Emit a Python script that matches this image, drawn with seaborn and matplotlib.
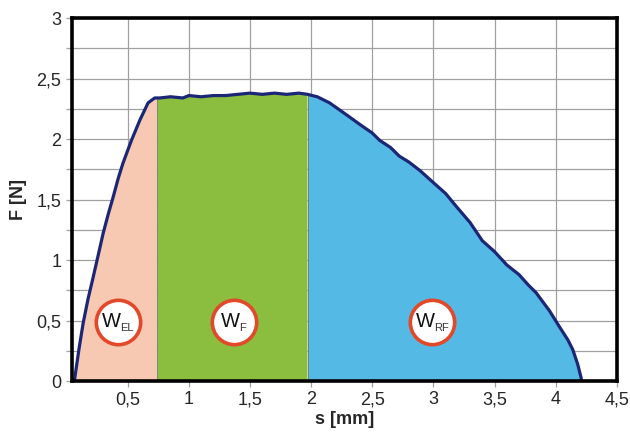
import numpy as np
import pandas as pd
import seaborn as sns
import matplotlib.pyplot as plt
from matplotlib.ticker import MultipleLocator, FuncFormatter

# force-displacement curve
s_mm = [0.060, 0.067, 0.10, 0.135, 0.175, 0.217, 0.26, 0.298, 0.34, 0.38, 0.42, 0.46, 0.53,
        0.60, 0.666, 0.72, 0.76, 0.85, 0.95, 1.00, 1.10, 1.20, 1.30, 1.40, 1.50, 1.60, 1.70,
        1.80, 1.90, 1.97, 2.05, 2.15, 2.22, 2.29, 2.40, 2.50, 2.56, 2.65, 2.72, 2.80, 2.89,
        3.00, 3.10, 3.19, 3.30, 3.40, 3.50, 3.60, 3.70, 3.78, 3.84, 3.95, 4.03, 4.10, 4.14,
        4.18, 4.21]
F_N = [0.00, 0.03, 0.26, 0.48, 0.68, 0.86, 1.05, 1.22, 1.38, 1.52, 1.67, 1.80, 1.99,
       2.16, 2.30, 2.34, 2.34, 2.35, 2.34, 2.36, 2.35, 2.36, 2.36, 2.37, 2.38, 2.37, 2.38,
       2.37, 2.38, 2.37, 2.35, 2.30, 2.25, 2.20, 2.12, 2.05, 1.99, 1.93, 1.86, 1.81, 1.74,
       1.64, 1.55, 1.44, 1.31, 1.16, 1.07, 0.96, 0.88, 0.79, 0.73, 0.58, 0.45, 0.34, 0.26,
       0.14, 0.02]

s_el = 0.737   # end of elastic work
s_f = 1.97     # end of plateau

areas = ['EL', 'F', 'RF']
area_x = [0.42, 1.37, 2.99]
area_y = [0.49, 0.49, 0.49]
area_colors = ['#F8C9B2', '#8BBE3E', '#54B9E4']

df = pd.DataFrame({'s': s_mm, 'F': F_N})

sns.set_style('white')
plt.rcParams['font.family'] = ['Liberation Sans', 'DejaVu Sans']

fig = plt.figure(figsize=(6.3, 4.32), dpi=100)
ax = fig.add_axes([0.114, 0.118, 0.865, 0.840])

s_arr = np.array(s_mm)
f_arr = np.array(F_N)
s_fine = np.linspace(s_arr[0], s_arr[-1], 800)
f_fine = np.interp(s_fine, s_arr, f_arr)
bounds = [s_arr[0], s_el, s_f, s_arr[-1]]
for i, c in enumerate(area_colors):
    m = (s_fine >= bounds[i]) & (s_fine <= bounds[i + 1])
    ax.fill_between(s_fine[m], 0, f_fine[m], color=c, lw=0, zorder=2)
for b in [s_el, s_f]:
    ax.plot([b, b], [0, np.interp(b, s_arr, f_arr)], color='#6b7b6b', lw=0.6, zorder=2)

sns.lineplot(data=df, x='s', y='F', ax=ax, color='#1C2677', lw=2.3, sort=False, zorder=4)

ax.scatter(area_x, area_y, s=1020, facecolor='white', edgecolor='#E2482A', linewidth=2.6, zorder=5)
for name, x, y in zip(areas, area_x, area_y):
    dx = 4.5 if name == 'F' else 2
    ax.annotate('W', (x, y), xytext=(dx, 0.5), textcoords='offset points', fontsize=14.5,
                ha='right', va='center', color='#111111', zorder=6)
    ax.annotate(name, (x, y), xytext=(dx - 0.8, -4.5), textcoords='offset points', fontsize=8,
                ha='left', va='center', color='#333333', zorder=6)

ax.set_xlim(0.042, 4.5)
ax.set_ylim(0, 3)
ax.xaxis.set_major_locator(MultipleLocator(0.5))
ax.yaxis.set_major_locator(MultipleLocator(0.5))
ax.yaxis.set_minor_locator(MultipleLocator(0.25))
fmt = FuncFormatter(lambda v, p: ('%g' % v).replace('.', ','))
ax.xaxis.set_major_formatter(fmt)
ax.yaxis.set_major_formatter(fmt)
ax.grid(True, which='both', color='#a0a0a0', lw=0.9, zorder=1)
ax.set_axisbelow(True)
ax.tick_params(axis='both', which='both', direction='out', length=4, width=0.9,
               color='#a0a0a0', labelsize=13, left=True, bottom=True)
for sp in ax.spines.values():
    sp.set_linewidth(2.6)
    sp.set_color('black')
    sp.set_zorder(7)

ax.set_xlabel('s [mm]', fontsize=13, fontweight='bold', labelpad=1.5)
ax.set_ylabel('F [N]', fontsize=13, fontweight='bold', labelpad=7)

fig.savefig('out.png', dpi=100)
